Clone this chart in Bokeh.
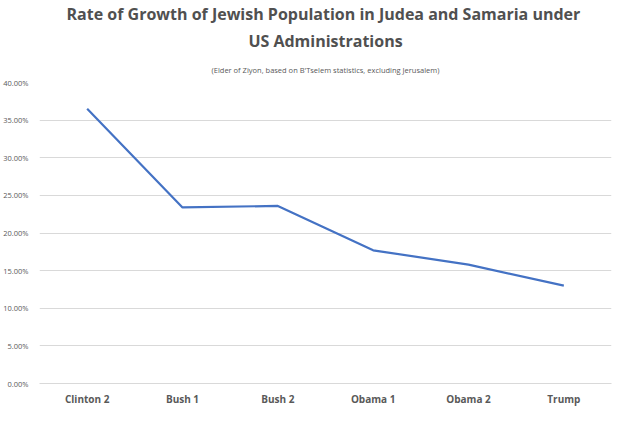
from bokeh.plotting import figure
from bokeh.models import Title, NumeralTickFormatter, FixedTicker, Range1d
from bokeh.embed import file_html
from bokeh.resources import INLINE

administrations = ["Clinton 2", "Bush 1", "Bush 2", "Obama 1", "Obama 2", "Trump"]
growth = [0.365, 0.234, 0.236, 0.177, 0.158, 0.130]
yticks = [0, 0.05, 0.10, 0.15, 0.20, 0.25, 0.30, 0.35, 0.40]

p = figure(x_range=administrations, width=623, height=408, output_backend="svg",
           toolbar_location=None, y_range=Range1d(0, 0.40), min_border_right=12,
           min_border_left=8, title=None)
p.line(administrations, growth, line_color="#4472C4", line_width=2.2)

def t(text, size, style, color, standoff):
    return Title(text=text, align="center", text_font="Open Sans", text_font_size=size,
                 text_font_style=style, text_color=color, standoff=standoff)

p.add_layout(t("(Elder of Ziyon, based on B'Tselem statistics, excluding Jerusalem)",
               "7.5px", "normal", "#595959", 16), "above")
p.add_layout(t("US Administrations", "16px", "bold", "#505050", 6), "above")
p.add_layout(t("Rate of  Growth of Jewish Population in Judea and Samaria under",
               "16px", "bold", "#505050", 0), "above")

p.yaxis.ticker = FixedTicker(ticks=yticks)
p.yaxis.formatter = NumeralTickFormatter(format="0.00%")
p.yaxis.axis_line_color = None
p.yaxis.major_tick_line_color = None
p.yaxis.minor_tick_line_color = None
p.yaxis.major_label_text_font = "Open Sans"
p.yaxis.major_label_text_font_size = "7.5px"
p.yaxis.major_label_text_color = "#595959"
p.xaxis.axis_line_color = "#d9d9d9"
p.xaxis.major_tick_line_color = None
p.xaxis.major_tick_out = 0
p.xaxis.major_tick_in = 0
p.xaxis.major_label_text_font = "Open Sans"
p.xaxis.major_label_text_font_size = "10px"
p.xaxis.major_label_text_font_style = "bold"
p.xaxis.major_label_text_color = "#595959"
p.xaxis.major_label_standoff = 8
p.min_border_bottom = 0
p.min_border_top = 14
p.xgrid.grid_line_color = None
p.ygrid.grid_line_color = "#d9d9d9"
p.outline_line_color = None

open("out.html", "w").write(file_html(p, INLINE))
